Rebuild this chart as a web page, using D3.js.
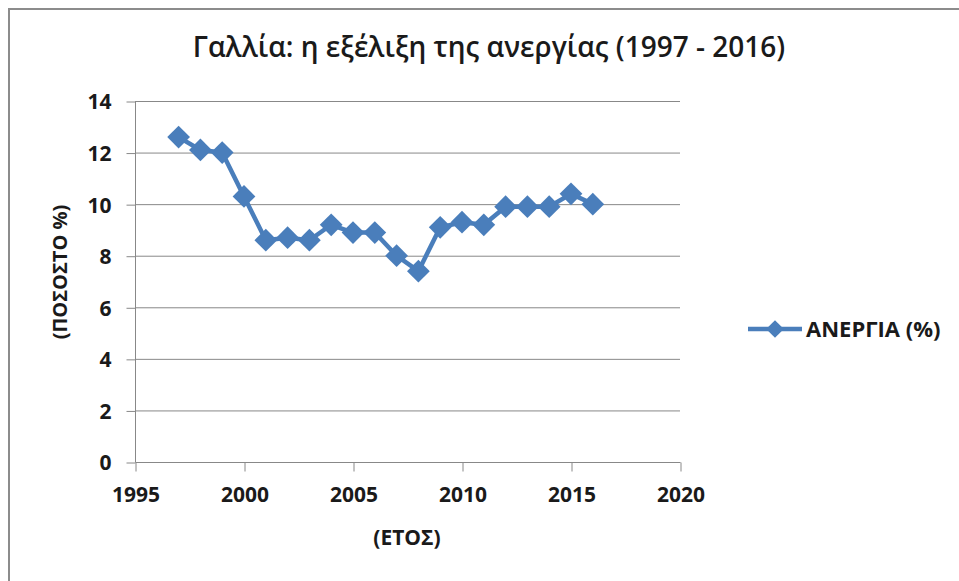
<!DOCTYPE html>
<html>
<head>
<meta charset="utf-8">
<script src="https://cdn.jsdelivr.net/npm/d3@7"></script>
<style>
  body { margin: 0; background: #fff; }
  svg { display: block; font-family: "Open Sans", "Noto Sans", sans-serif; }
</style>
</head>
<body>
<div id="mainContainer"><svg></svg></div>
<script>
const SVG_WIDTH = 959;
const SVG_HEIGHT = 581;

// data
const years = [1997, 1998, 1999, 2000, 2001, 2002, 2003, 2004, 2005, 2006,
               2007, 2008, 2009, 2010, 2011, 2012, 2013, 2014, 2015, 2016];
const unemployment = [12.6, 12.1, 12.0, 10.3, 8.6, 8.7, 8.6, 9.2, 8.9, 8.9,
                      8.0, 7.4, 9.1, 9.3, 9.2, 9.9, 9.9, 9.9, 10.4, 10.0];
const xTicks = [1995, 2000, 2005, 2010, 2015, 2020];
const yTicks = [0, 2, 4, 6, 8, 10, 12, 14];

const TITLE = "Γαλλία: η εξέλιξη της ανεργίας (1997 - 2016)";
const X_TITLE = "(ΕΤΟΣ)";
const Y_TITLE = "(ΠΟΣΟΣΤΟ %)";
const SERIES_NAME = "ΑΝΕΡΓΙΑ (%)";

const LINE_COLOR = "#4a7ebb";
const GRID_COLOR = "#888";
const TEXT_COLOR = "#1a1a1a";
const LABEL_SIZE = 21;

let svg = d3.select("#mainContainer").select("svg")
    .attr("width", SVG_WIDTH)
    .attr("height", SVG_HEIGHT);

// outer frame (left + top visible)
svg.append("path")
    .attr("d", `M9,${SVG_HEIGHT} L9,9 L${SVG_WIDTH},9`)
    .attr("fill", "none")
    .attr("stroke", "#8c8c8c")
    .attr("stroke-width", 2);

const plot = { left: 135, right: 680, top: 101, bottom: 462 };

let x = d3.scaleLinear().domain([1995, 2020]).range([plot.left, plot.right]);
let y = d3.scaleLinear().domain([0, 14]).range([plot.bottom, plot.top]);

// horizontal gridlines
svg.append("g")
    .selectAll("line")
    .data(yTicks.filter(d => d > 0))
    .enter()
    .append("line")
    .attr("x1", plot.left)
    .attr("x2", plot.right)
    .attr("y1", d => y(d) + 0.5)
    .attr("y2", d => y(d) + 0.5)
    .attr("stroke", GRID_COLOR)
    .attr("stroke-width", 1);

// y axis
let yAxis = svg.append("g")
    .attr("transform", `translate(${plot.left + 0.5},0.5)`)
    .call(d3.axisLeft(y).tickValues(yTicks).tickSize(9).tickPadding(15).tickFormat(d3.format("d")));
yAxis.select(".domain").attr("stroke", GRID_COLOR).attr("d", `M0,${plot.top}V${plot.bottom}`);
yAxis.selectAll(".tick line").attr("stroke", GRID_COLOR);
yAxis.selectAll("text")
    .attr("font-size", LABEL_SIZE)
    .attr("font-family", "Open Sans")
    .attr("font-weight", "bold")
    .attr("fill", TEXT_COLOR)
    .attr("dy", "0.35em");

// x axis
let xAxis = svg.append("g")
    .attr("transform", `translate(0.5,${plot.bottom + 0.5})`)
    .call(d3.axisBottom(x).tickValues(xTicks).tickSize(9).tickPadding(16).tickFormat(d3.format("d")));
xAxis.select(".domain").attr("stroke", GRID_COLOR).attr("d", `M${plot.left},0H${plot.right}`);
xAxis.selectAll(".tick line").attr("stroke", GRID_COLOR);
xAxis.selectAll("text")
    .attr("font-size", LABEL_SIZE)
    .attr("font-family", "Open Sans")
    .attr("font-weight", "bold")
    .attr("fill", TEXT_COLOR);

// line series
let line = d3.line()
    .x((d, i) => x(years[i]))
    .y(d => y(d));

svg.append("path")
    .datum(unemployment)
    .attr("d", line)
    .attr("fill", "none")
    .attr("stroke", LINE_COLOR)
    .attr("stroke-width", 4.5)
    .attr("stroke-linejoin", "round");

let diamond = d3.symbol().type(d3.symbolDiamond2).size(330);
svg.append("g")
    .selectAll("path")
    .data(unemployment)
    .enter()
    .append("path")
    .attr("d", diamond)
    .attr("transform", (d, i) => `translate(${x(years[i])},${y(d)})`)
    .attr("fill", LINE_COLOR);

// title
svg.append("text")
    .attr("x", 489)
    .attr("y", 57)
    .attr("text-anchor", "middle")
    .attr("font-size", 28)
    .attr("font-weight", 600)
    .attr("fill", TEXT_COLOR)
    .text(TITLE);

// axis titles
svg.append("text")
    .attr("x", 407)
    .attr("y", 545)
    .attr("text-anchor", "middle")
    .attr("font-size", LABEL_SIZE)
    .attr("font-weight", "bold")
    .attr("fill", TEXT_COLOR)
    .text(X_TITLE);

svg.append("text")
    .attr("transform", "translate(67,272) rotate(-90)")
    .attr("text-anchor", "middle")
    .attr("font-size", 20)
    .attr("font-weight", "bold")
    .attr("fill", TEXT_COLOR)
    .text(Y_TITLE);

// legend
let legend = svg.append("g").attr("transform", "translate(748,329)");
legend.append("line")
    .attr("x1", 0).attr("x2", 54)
    .attr("stroke", LINE_COLOR)
    .attr("stroke-width", 4.5);
legend.append("path")
    .attr("d", d3.symbol().type(d3.symbolDiamond2).size(200))
    .attr("transform", "translate(27,0)")
    .attr("fill", LINE_COLOR);
legend.append("text")
    .attr("x", 58)
    .attr("dy", "0.35em")
    .attr("font-size", 22)
    .attr("font-weight", "bold")
    .attr("fill", TEXT_COLOR)
    .text(SERIES_NAME);
</script>
</body>
</html>
